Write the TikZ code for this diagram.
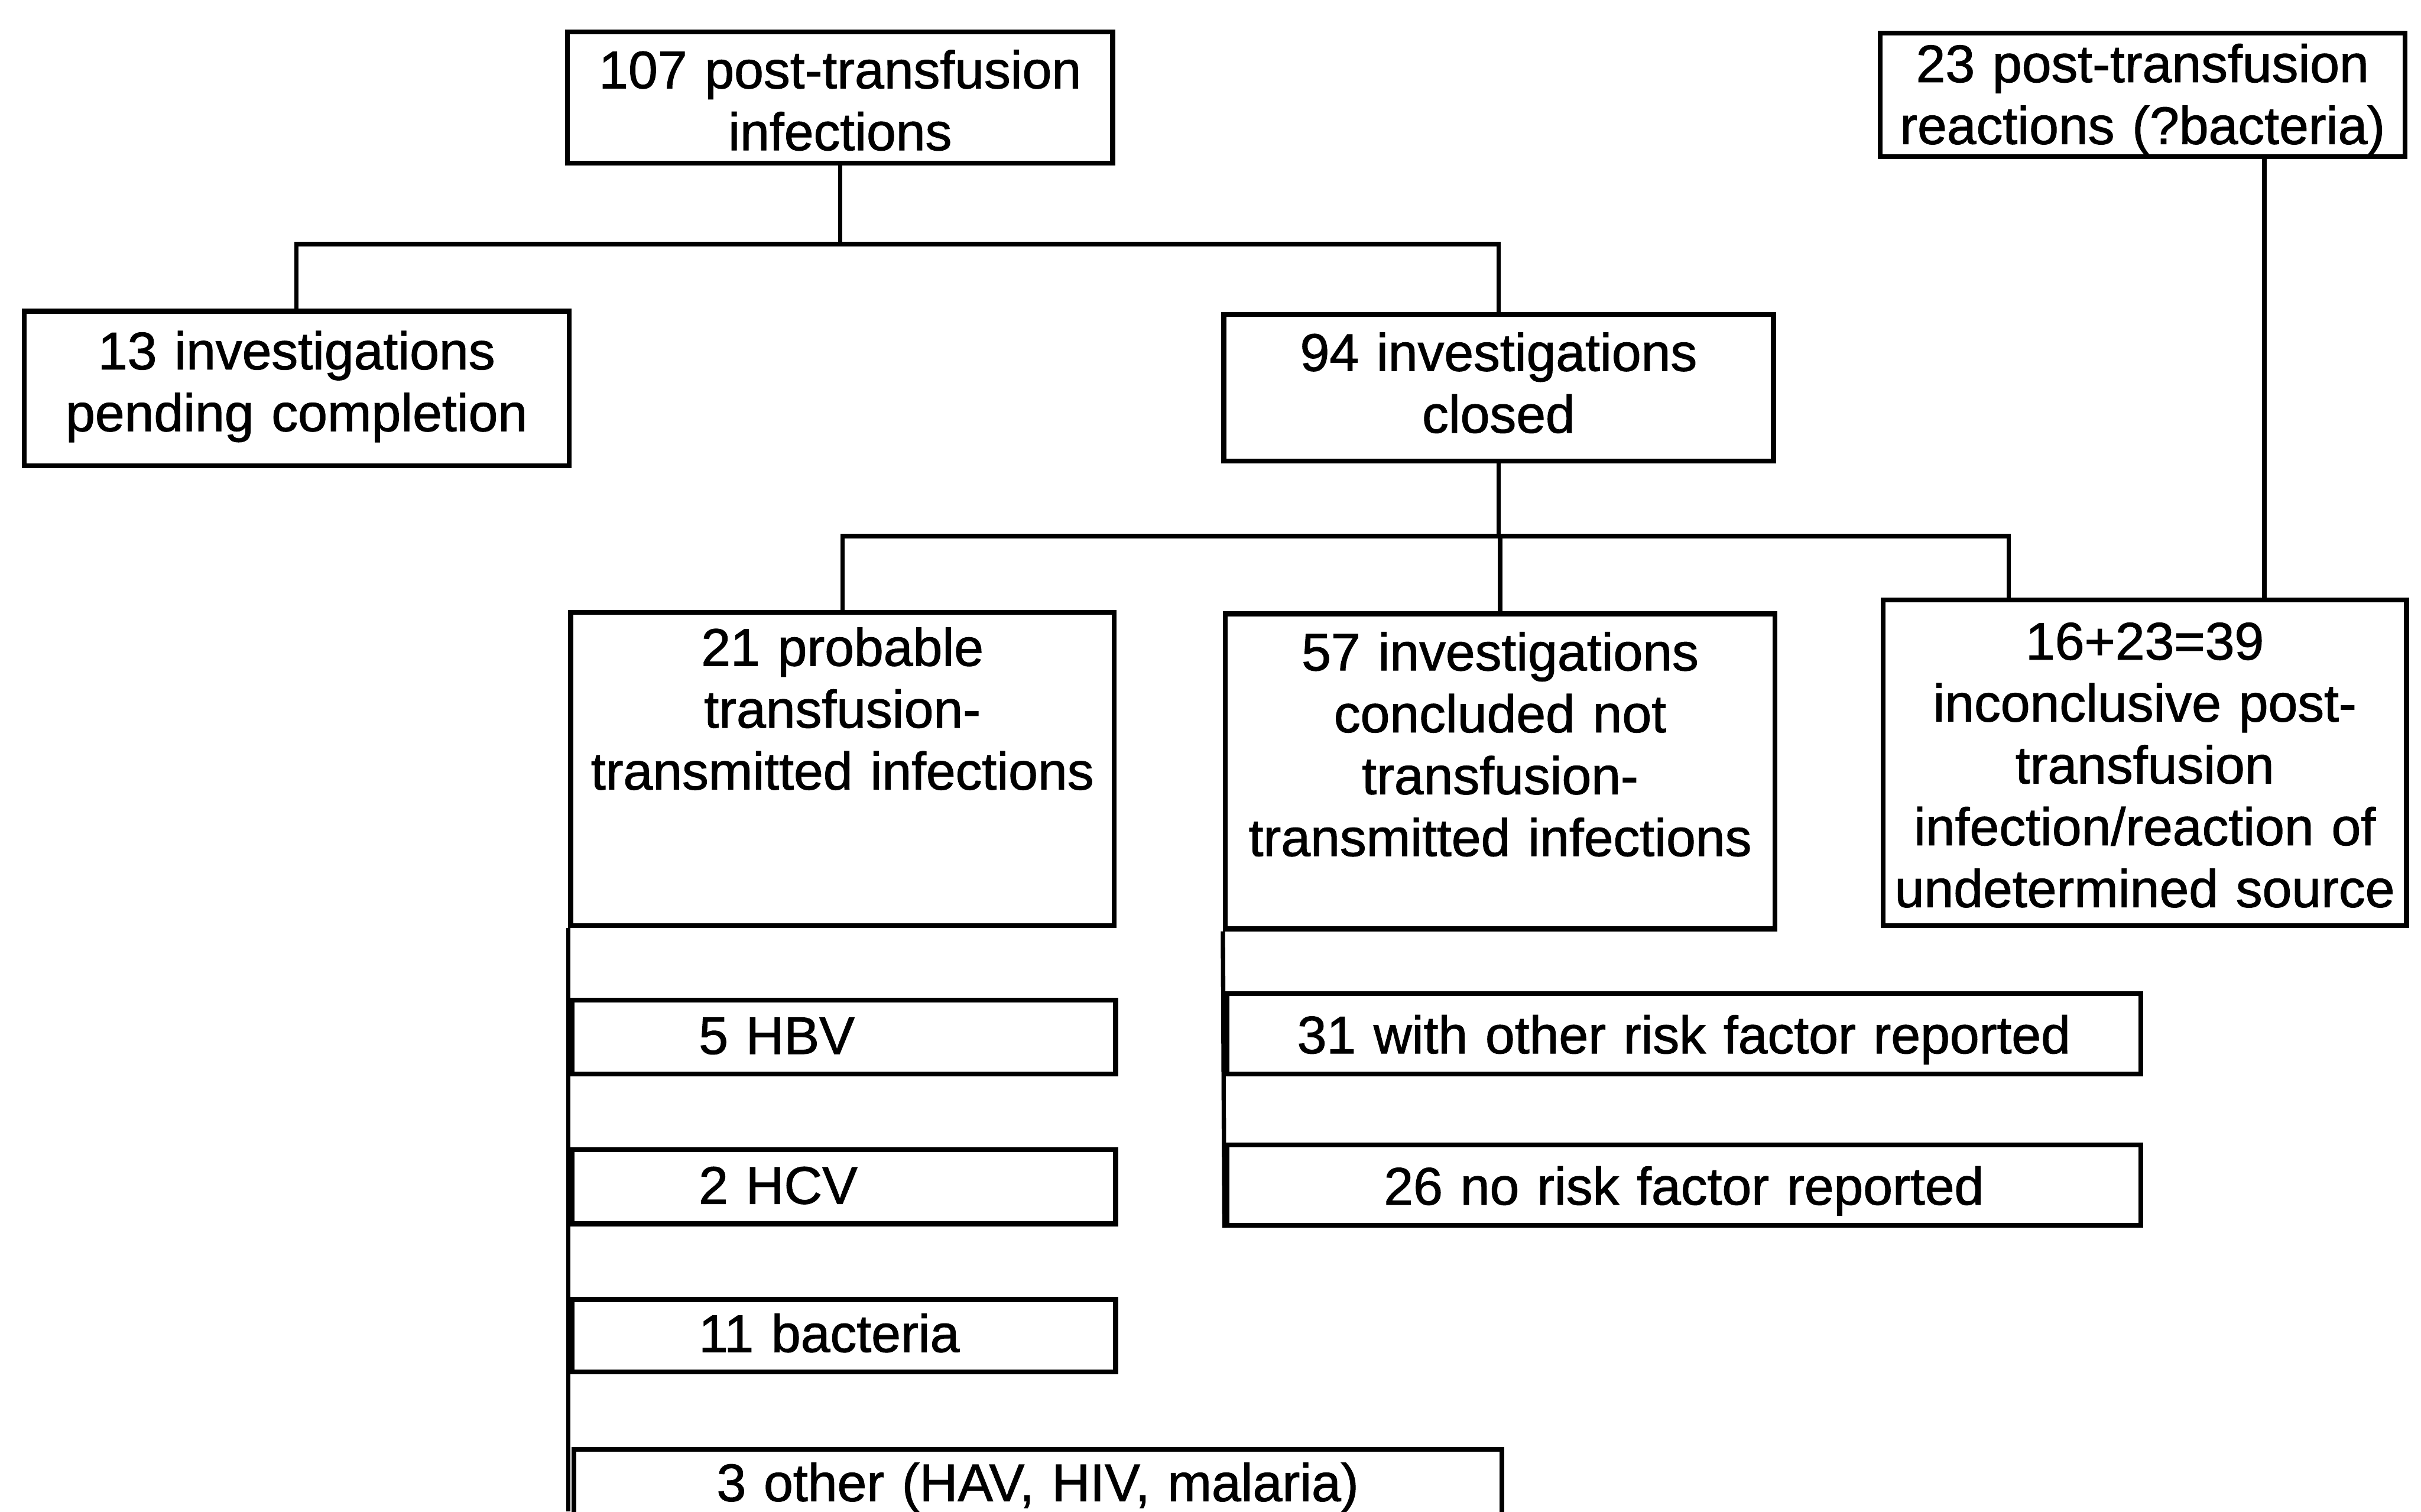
\documentclass[tikz,border=0pt]{standalone}
\usepackage{fontspec}
\newfontfamily\flowfont{Liberation Sans}[FakeBold=1.2]

\begin{document}
\begin{tikzpicture}[
	box/.style={draw, line width=0.9pt, anchor=north west, inner xsep=0pt,
		inner ysep=0pt, align=center, font=\flowfont\fontsize{9.75}{11.4}\selectfont},
	leftbox/.style={box, align=left, inner xsep=8.2mm},
	link/.style={line width=0.8pt}]

	\useasboundingbox (0,0) rectangle (15.68,-9.79);

	% top level
	\node[box, text width=3.53cm, text height=3.66mm, text depth=4.84mm] (infect) at (3.66,-0.19) {107 post-transfusion\\infections};
	\node[box, text width=3.40cm, text height=3.16mm, text depth=4.84mm] (react) at (12.16,-0.20) {23 post-transfusion\\reactions (?bacteria)};

	\node[box, text width=3.53cm, text height=3.76mm, text depth=6.24mm] (pending) at (0.14,-2.00) {13 investigations\\pending completion};
	\node[box, text width=3.56cm, text height=3.66mm, text depth=5.84mm] (closed) at (7.91,-2.02) {94 investigations\\closed};

	% outcome of closed investigations
	\node[box, text width=3.52cm, text height=3.46mm, text depth=16.84mm] (probable) at (3.68,-3.95) {21 probable\\transfusion-\\transmitted infections};
	\node[box, text width=3.56cm, text height=3.66mm, text depth=16.74mm] (notxmit) at (7.92,-3.96) {57 investigations\\concluded not\\transfusion-\\transmitted infections};
	\node[box, text width=3.39cm, text height=3.86mm, text depth=17.24mm] (inconc) at (12.18,-3.87) {16+23=39\\inconclusive post-\\transfusion\\infection/reaction of\\undetermined source};

	% breakdown
	\node[leftbox, text width=1.88cm, text height=3.5mm, text depth=1.3mm] (hbv) at (3.69,-6.46) {5 HBV};
	\node[leftbox, text width=1.88cm, text height=3.5mm, text depth=1.3mm] (hcv) at (3.69,-7.43) {2 HCV};
	\node[leftbox, text width=1.88cm, text height=3.4mm, text depth=1.3mm] (bact) at (3.69,-8.40) {11 bacteria};
	\node[box, text width=6.01cm, text height=3.36mm, text depth=2.64mm] (other) at (3.70,-9.37) {3 other (HAV, HIV, malaria)};

	\node[box, text width=5.92cm, text height=3.86mm, text depth=1.34mm] (riskf) at (7.93,-6.42) {31 with other risk factor reported};
	\node[box, text width=5.92cm, text height=3.86mm, text depth=1.34mm] (norisk) at (7.93,-7.40) {26 no risk factor reported};

	% connectors
	\draw[link] (infect.south) -- ++(0,-0.51) coordinate (fork1) -| (pending.north);
	\draw[link] (fork1) -| (closed.north);

	\draw[link] (closed.south) -- ++(0,-0.47) coordinate (fork2) -| (probable.north);
	\draw[link] (fork2) -| (notxmit.north);
	\draw[link] (fork2) -| ([xshift=8.3mm]inconc.north west);

	\draw[link] ([xshift=7.9mm]react.south) -- ([xshift=7.9mm]react.south |- inconc.north);

	\coordinate (spine) at (3.69,-9.79);
	\draw[link] (probable.south west) -- (probable.south west |- spine);
	\draw[link] (notxmit.south west) -- (norisk.south west);
\end{tikzpicture}
\end{document}
